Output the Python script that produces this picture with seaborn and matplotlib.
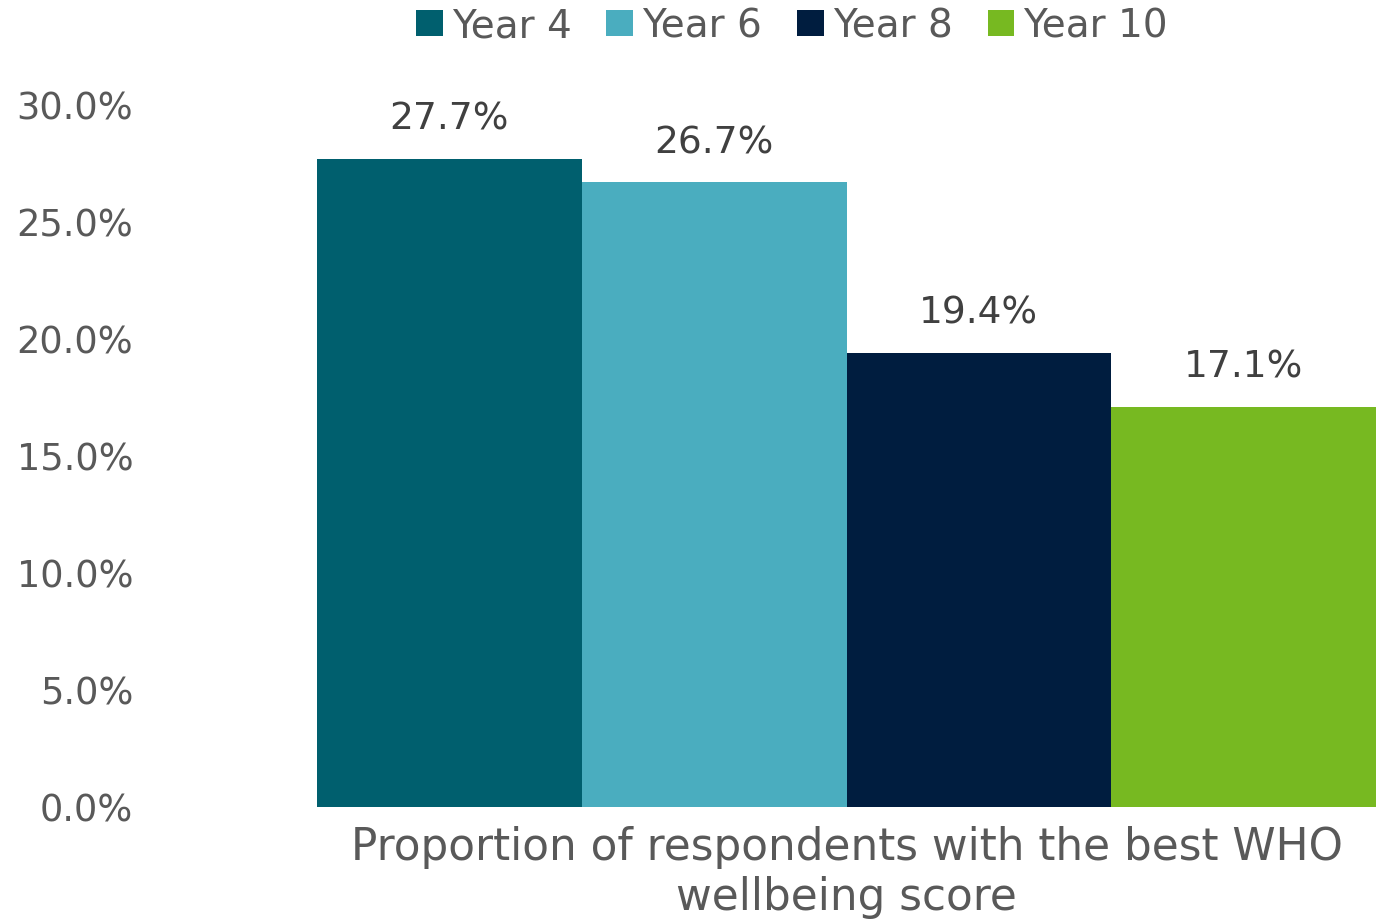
import matplotlib
matplotlib.use("Agg")
import matplotlib.pyplot as plt
import seaborn as sns
import pandas as pd
from matplotlib.ticker import FuncFormatter, MultipleLocator

# Data
category = "Proportion of respondents with the best WHO\nwellbeing score"
years = ["Year 4", "Year 6", "Year 8", "Year 10"]
values = [27.7, 26.7, 19.4, 17.1]
colors = ["#005F6E", "#4AADBF", "#001D3F", "#77B921"]

df = pd.DataFrame({"measure": [category] * len(years), "year": years, "value": values})

sns.set_theme(style="white")
plt.rcParams["font.family"] = ["DejaVu Sans"]

text_grey = "#595959"

fig = plt.figure(figsize=(13.76, 9.19), dpi=100)
ax = fig.add_axes([150 / 1376, (919 - 807) / 919, (1376 - 150) / 1376, (807 - 105) / 919])

sns.barplot(data=df, x="measure", y="value", hue="year", hue_order=years,
            palette=colors, width=0.8, linewidth=0, saturation=1, ax=ax,
            legend=True)

ax.set_ylim(0, 30)
ax.set_xlim((150 - 846) / 1322.5, 0.4)
ax.yaxis.set_major_locator(MultipleLocator(5))
ax.yaxis.set_major_formatter(FuncFormatter(lambda v, _: f"{v:.1f}%"))
ax.tick_params(axis="y", length=0, pad=12, labelsize=26.5, labelcolor=text_grey)
ax.tick_params(axis="x", length=0, pad=13.5, labelsize=31.5, labelcolor=text_grey)
for lbl in ax.get_xticklabels():
    lbl.set_linespacing(1.22)
ax.set_xlabel("")
ax.set_ylabel("")
for s in ax.spines.values():
    s.set_visible(False)
ax.grid(False)

# Value labels above each bar
for container in ax.containers:
    for bar in container:
        h = bar.get_height()
        ax.annotate(f"{h:.1f}%", (bar.get_x() + bar.get_width() / 2, h),
                    xytext=(0, 21), textcoords="offset points",
                    ha="center", va="baseline", fontsize=27, color="#404040")

# Legend along the top
handles, labels = ax.get_legend_handles_labels()
ax.legend_.remove()
fig.legend(handles, labels, loc="center", bbox_to_anchor=(792 / 1376, 1 - 26 / 919),
           ncol=4, frameon=False, handlelength=0.69, handleheight=0.64,
           handletextpad=0.23, columnspacing=0.9,
           prop={"size": 28}, labelcolor=text_grey)

fig.savefig("out.png", dpi=100)
